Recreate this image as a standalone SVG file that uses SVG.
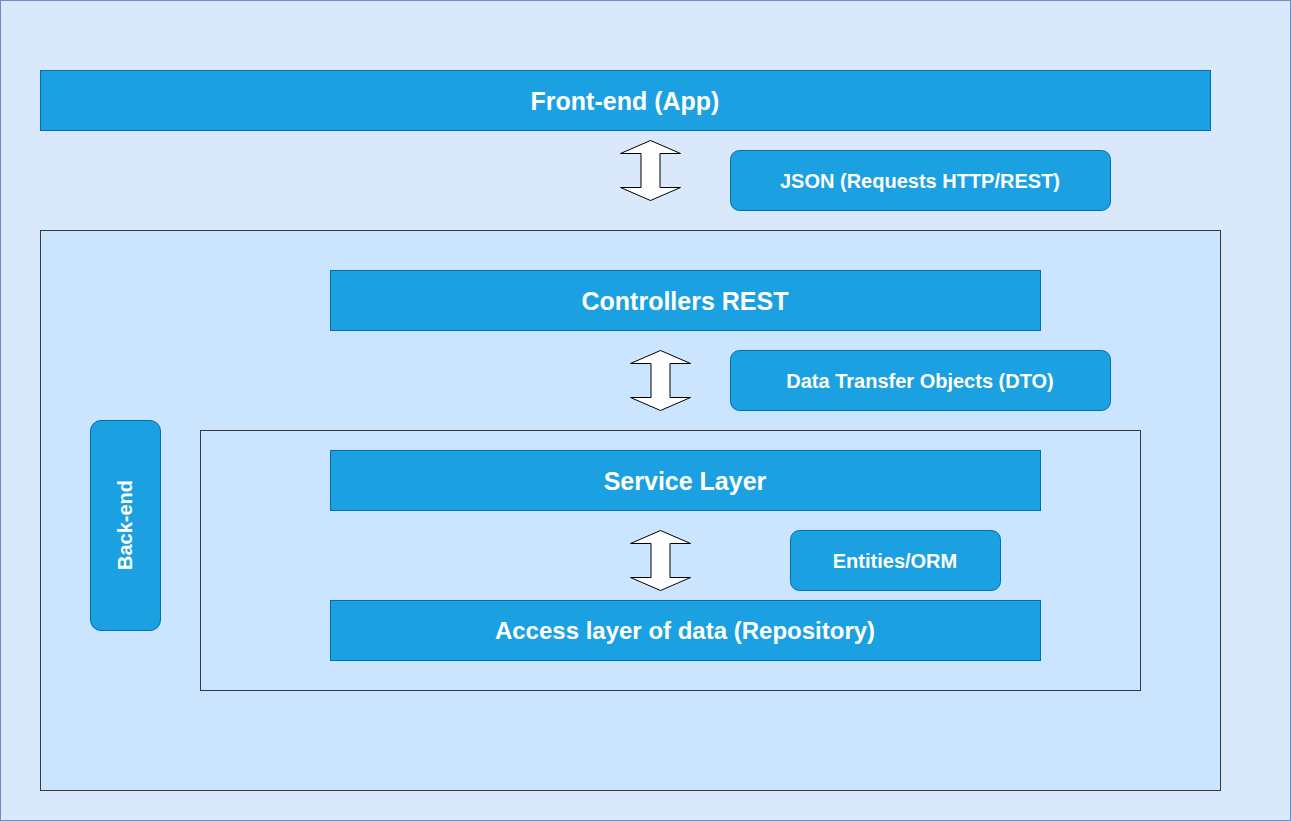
<svg xmlns="http://www.w3.org/2000/svg" width="1291" height="821" viewBox="0 0 1291 821">
<defs>
<style>
.bar{fill:#1ba1e2;stroke:#006eaf;stroke-width:1}
.cont{fill:#cce5ff;stroke:#36393d;stroke-width:1}
.big{font-family:"Liberation Sans",Arial,sans-serif;font-weight:bold;font-size:25px;fill:#ffffff;text-anchor:middle}
.small{font-family:"Liberation Sans",Arial,sans-serif;font-weight:bold;font-size:20px;fill:#ffffff;text-anchor:middle}
.arr{fill:#ffffff;stroke:#000000;stroke-width:1}
</style>
<path id="dbl" d="M30,0 L60,13 L39.5,13 L39.5,47 L60,47 L30,60 L0,47 L20.5,47 L20.5,13 L0,13 Z"/>
</defs>
<rect x="0.5" y="0.5" width="1290" height="820" fill="#dae8fc" stroke="#6c8ebf" stroke-width="1"/>
<g id="backend-container"><rect class="cont" x="40.5" y="230.5" width="1180" height="560"/></g>
<g id="inner-container"><rect class="cont" x="200.5" y="430.5" width="940" height="260"/></g>
<g id="frontend"><rect class="bar" x="40.5" y="70.5" width="1170" height="60"/><text class="big" x="625" y="110">Front-end (App)</text></g>
<g id="json"><rect class="bar" x="730.5" y="150.5" width="380" height="60" rx="9"/><text class="small" x="920" y="188">JSON (Requests HTTP/REST)</text></g>
<g id="controllers"><rect class="bar" x="330.5" y="270.5" width="710" height="60"/><text class="big" x="685" y="310">Controllers REST</text></g>
<g id="dto"><rect class="bar" x="730.5" y="350.5" width="380" height="60" rx="9"/><text class="small" x="920" y="388">Data Transfer Objects (DTO)</text></g>
<g id="backend-label"><rect class="bar" x="90.5" y="420.5" width="70" height="210" rx="10.5"/><text class="small" transform="translate(132,525) rotate(-90)" x="0" y="0">Back-end</text></g>
<g id="service"><rect class="bar" x="330.5" y="450.5" width="710" height="60"/><text class="big" x="685" y="490">Service Layer</text></g>
<g id="entities"><rect class="bar" x="790.5" y="530.5" width="210" height="60" rx="9"/><text class="small" x="895" y="568">Entities/ORM</text></g>
<g id="repository"><rect class="bar" x="330.5" y="600.5" width="710" height="60"/><text class="big" x="685" y="639" style="font-size:24px">Access layer of data (Repository)</text></g>
<g id="connectors">
<use href="#dbl" class="arr" transform="translate(620.5,140.5)"/>
<use href="#dbl" class="arr" transform="translate(630.5,350.5)"/>
<use href="#dbl" class="arr" transform="translate(630.5,530.5)"/>
</g>
</svg>
